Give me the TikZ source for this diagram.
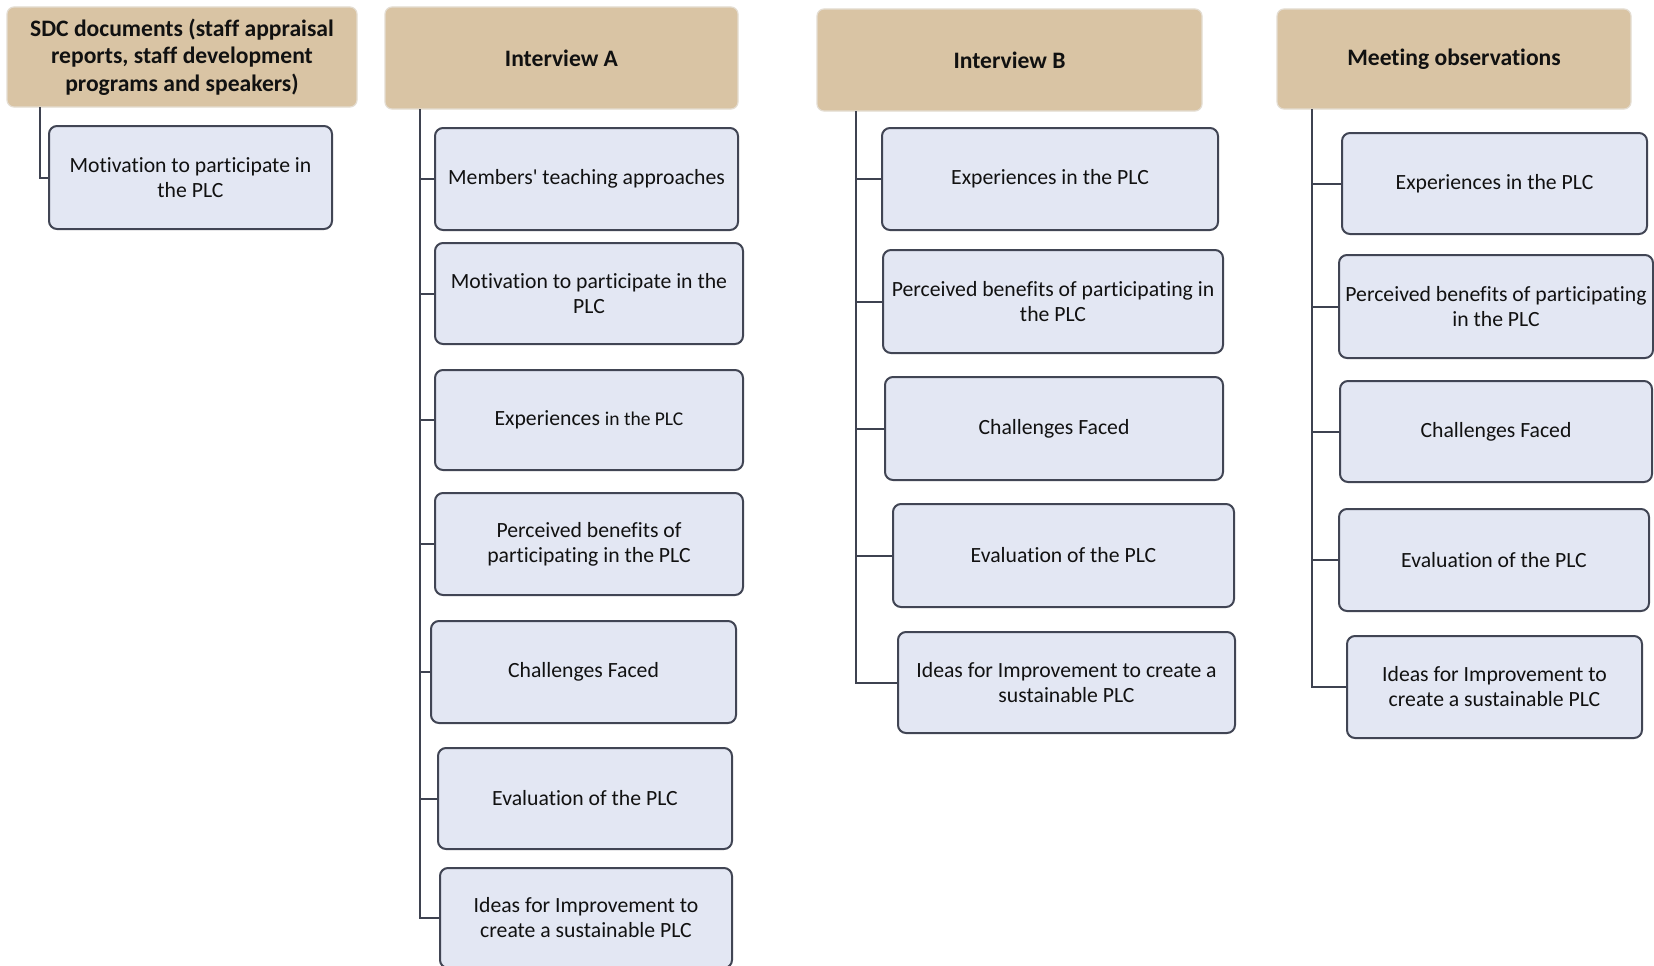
\documentclass[tikz,border=0pt]{standalone}
\usepackage{fontspec}
\setmainfont{Carlito}[Ligatures={TeXOff,NoCommon}]
\definecolor{tanfill}{HTML}{D9C4A4}
\definecolor{tanline}{HTML}{E4DDD2}
\definecolor{kidfill}{HTML}{E3E7F3}
\definecolor{kidline}{HTML}{414554}
\definecolor{connc}{HTML}{3E4250}
\definecolor{txt}{HTML}{111111}
\begin{document}
\begin{tikzpicture}[x=1pt,y=-1pt,
  hdr/.style={draw=tanline, line width=1.2pt, fill=tanfill, rounded corners=7pt,
    font=\fontsize{23.6}{27.5}\selectfont\bfseries, text=txt, align=center, inner sep=0pt},
  kid/.style={draw=kidline, line width=2pt, fill=kidfill, rounded corners=8pt,
    font=\fontsize{21.7}{25}\selectfont, text=txt, align=center, inner sep=0pt},
  conn/.style={draw=connc, line width=2pt}]
\useasboundingbox[fill=white] (0,0) rectangle (1654,966);

% ---- SDC documents
\node[hdr, minimum width=350pt, minimum height=100pt] (hS) at (182,57)
  {SDC documents (staff appraisal\\reports, staff development\\programs and speakers)};
\node[kid, minimum width=283pt, minimum height=103pt] (s1) at (190.5,177.5)
  {Motivation to participate in\\the PLC};
\coordinate (tS) at (40,107);
\draw[conn] (tS) |- (s1.west);

% ---- Interview A
\node[hdr, minimum width=353pt, minimum height=102pt] (hA) at (561.5,58) {Interview A};
\node[kid, minimum width=303pt, minimum height=102pt] (a1) at (586.5,179) {Members' teaching approaches};
\node[kid, minimum width=308pt, minimum height=101pt] (a2) at (589,293.5) {Motivation to participate in the\\PLC};
\node[kid, minimum width=308pt, minimum height=100pt] (a3) at (589,420) {Experiences {\fontsize{19.5}{23}\selectfont in the PLC}};
\node[kid, minimum width=308pt, minimum height=102pt] (a4) at (589,544) {Perceived benefits of\\participating in the PLC};
\node[kid, minimum width=305pt, minimum height=102pt] (a5) at (583.5,672) {Challenges Faced};
\node[kid, minimum width=294pt, minimum height=101pt] (a6) at (585,798.5) {Evaluation of the PLC};
\node[kid, minimum width=292pt, minimum height=100pt] (a7) at (586,918) {Ideas for Improvement to\\create a sustainable PLC};
\coordinate (tA) at (420,109);
\draw[conn] (tA) |- (a7.west);
\foreach \n in {a1,a2,a3,a4,a5,a6}
  \draw[conn] (\n.west) -- (\n.west -| tA);

% ---- Interview B
\node[hdr, minimum width=385pt, minimum height=102pt] (hB) at (1009.5,60) {Interview B};
\node[kid, minimum width=336pt, minimum height=102pt] (b1) at (1050,179) {Experiences in the PLC};
\node[kid, minimum width=340pt, minimum height=103pt] (b2) at (1053,301.5) {Perceived benefits of participating in\\the PLC};
\node[kid, minimum width=338pt, minimum height=103pt] (b3) at (1054,428.5) {Challenges Faced};
\node[kid, minimum width=341pt, minimum height=103pt] (b4) at (1063.5,555.5) {Evaluation of the PLC};
\node[kid, minimum width=337pt, minimum height=101pt] (b5) at (1066.5,682.5) {Ideas for Improvement to create a\\sustainable PLC};
\coordinate (tB) at (856,111);
\draw[conn] (tB) |- (b5.west);
\foreach \n in {b1,b2,b3,b4}
  \draw[conn] (\n.west) -- (\n.west -| tB);

% ---- Meeting observations
\node[hdr, minimum width=354pt, minimum height=100pt] (hM) at (1454,59) {Meeting observations};
\node[kid, minimum width=305pt, minimum height=101pt] (m1) at (1494.5,183.5) {Experiences in the PLC};
\node[kid, minimum width=314pt, minimum height=103pt] (m2) at (1496,306.5) {Perceived benefits of participating\\in the PLC};
\node[kid, minimum width=312pt, minimum height=101pt] (m3) at (1496,431.5) {Challenges Faced};
\node[kid, minimum width=310pt, minimum height=102pt] (m4) at (1494,560) {Evaluation of the PLC};
\node[kid, minimum width=295pt, minimum height=102pt] (m5) at (1494.5,687) {Ideas for Improvement to\\create a sustainable PLC};
\coordinate (tM) at (1312,109);
\draw[conn] (tM) |- (m5.west);
\foreach \n in {m1,m2,m3,m4}
  \draw[conn] (\n.west) -- (\n.west -| tM);
\end{tikzpicture}
\end{document}
